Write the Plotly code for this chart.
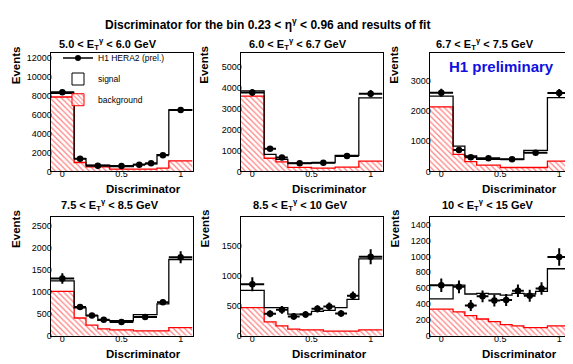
import plotly.graph_objects as go

W, H = 573, 364
FONT = "Liberation Sans, Arial, Helvetica, sans-serif"

main_title = "Discriminator for the bin 0.23 < η<sup>γ</sup> < 0.96 and results of fit"
panel_titles = [
    "5.0 < E<sub>T</sub><sup>γ</sup> < 6.0 GeV",
    "6.0 < E<sub>T</sub><sup>γ</sup> < 6.7 GeV",
    "6.7 < E<sub>T</sub><sup>γ</sup> < 7.5 GeV",
    "7.5 < E<sub>T</sub><sup>γ</sup> < 8.5 GeV",
    "8.5 < E<sub>T</sub><sup>γ</sup> < 10 GeV",
    "10 < E<sub>T</sub><sup>γ</sup> < 15 GeV",
]
x_title = "Discriminator"
y_title = "Events"
legend_names = ["H1 HERA2 (prel.)", "signal", "background"]
prelim_text = "H1 preliminary"

# ---- panel 1 : 5.0 < ET < 6.0 ----
edges_1 = [-0.1, 0.1, 0.2, 0.4, 0.6, 0.7, 0.8, 0.9, 1.1]
data_1 = [8350, 1330, 590, 560, 700, 850, 1700, 6500]
err_1 = [280, 150, 120, 120, 120, 130, 160, 200]
total_1 = [8250, 1360, 660, 520, 750, 800, 1775, 6500]
bg_1 = [7860, 940, 490, 250, 250, 250, 350, 1110]

# ---- panel 2 : 6.0 < ET < 6.7 ----
edges_2 = [-0.1, 0.1, 0.2, 0.3, 0.5, 0.7, 0.9, 1.1]
data_2 = [3780, 1085, 660, 390, 410, 740, 3720]
err_2 = [160, 70, 55, 45, 45, 60, 170]
total_2 = [3850, 820, 580, 390, 425, 770, 3520]
bg_2 = [3600, 630, 455, 190, 157, 205, 490]

# ---- panel 3 : 6.7 < ET < 7.5 ----
edges_3 = [-0.1, 0.1, 0.2, 0.3, 0.5, 0.7, 0.9, 1.1]
data_3 = [2600, 705, 467, 435, 400, 620, 2590]
err_3 = [135, 60, 45, 40, 40, 50, 135]
total_3 = [2490, 837, 510, 400, 400, 695, 2435]
bg_3 = [2130, 565, 326, 206, 130, 130, 337]

# ---- panel 4 : 7.5 < ET < 8.5 ----
edges_4 = [-0.1, 0.1, 0.2, 0.3, 0.4, 0.6, 0.8, 0.9, 1.1]
data_4 = [1300, 650, 462, 365, 313, 425, 760, 1783]
err_4 = [120, 60, 45, 40, 35, 40, 60, 135]
total_4 = [1245, 634, 455, 350, 340, 477, 724, 1730]
bg_4 = [1007, 403, 239, 157, 134, 112, 112, 186]

# ---- panel 5 : 8.5 < ET < 10 ----
edges_5 = [-0.1, 0.1, 0.2, 0.3, 0.4, 0.5, 0.6, 0.7, 0.8, 0.9, 1.1]
data_5 = [855, 365, 430, 321, 354, 447, 485, 370, 665, 1313]
err_5 = [115, 60, 65, 55, 55, 60, 65, 55, 70, 125]
total_5 = [752, 468, 468, 360, 360, 403, 420, 468, 605, 1275]
bg_5 = [468, 229, 163, 109, 98, 98, 76, 76, 76, 98]

# ---- panel 6 : 10 < ET < 15 ----
edges_6 = [-0.1, 0.1, 0.2, 0.3, 0.4, 0.5, 0.6, 0.7, 0.8, 0.9, 1.1]
data_6 = [638, 617, 381, 497, 443, 451, 567, 505, 596, 994]
err_6 = [85, 80, 70, 75, 75, 75, 80, 75, 80, 110]
total_6 = [464, 638, 526, 534, 526, 513, 534, 526, 559, 845]
bg_6 = [335, 302, 253, 211, 178, 141, 124, 103, 103, 124]

panels = [
    (edges_1, data_1, err_1, total_1, bg_1),
    (edges_2, data_2, err_2, total_2, bg_2),
    (edges_3, data_3, err_3, total_3, bg_3),
    (edges_4, data_4, err_4, total_4, bg_4),
    (edges_5, data_5, err_5, total_5, bg_5),
    (edges_6, data_6, err_6, total_6, bg_6),
]
y_max = [12500, 5660, 3910, 2700, 1975, 1500]
y_dtick = [2000, 1000, 1000, 500, 500, 200]


def px(x):
    return x / W


def py(y):
    return 1 - y / H


col_px = [(42.5, 184.5), (232.5, 374.5), (421.5, 563.0)]
row_px = [(45.7, 165.7), (211.7, 332.3)]
title_cx = [[100, 290, 477], [101.5, 292.5, 480]]
title_cy = [37, 200]
disc_cx = [135, 321.5, 511.5]
disc_cy = [184, 351]
ev_cx = [8, 196.5, 386.5]
ev_cy = [58, 224]

hatch = dict(shape="\\", fgcolor="red", bgcolor="white", size=4, solidity=0.3)

fig = go.Figure()
layout = dict(
    width=W, height=H,
    margin=dict(l=0, r=0, t=0, b=0),
    paper_bgcolor="white", plot_bgcolor="white",
    barmode="overlay", showlegend=True,
    font=dict(family=FONT, color="black"),
)
annotations = []

for i, (edges, data, err, total, bg) in enumerate(panels):
    k = i + 1
    r, c = divmod(i, 3)
    xa = "x" if k == 1 else f"x{k}"
    ya = "y" if k == 1 else f"y{k}"
    centers = [(edges[j] + edges[j + 1]) / 2 for j in range(len(edges) - 1)]
    widths = [edges[j + 1] - edges[j] for j in range(len(edges) - 1)]
    halfw = [w / 2 for w in widths]

    fig.add_trace(go.Bar(
        x=centers, y=bg, width=widths, xaxis=xa, yaxis=ya,
        marker=dict(color="white", line=dict(width=0), pattern=hatch),
        showlegend=False, hoverinfo="skip"))
    fig.add_trace(go.Scatter(
        x=edges, y=bg + [bg[-1]], mode="lines", line_shape="hv",
        line=dict(color="red", width=1.3), xaxis=xa, yaxis=ya,
        showlegend=False, hoverinfo="skip"))
    fig.add_trace(go.Scatter(
        x=edges, y=total + [total[-1]], mode="lines", line_shape="hv",
        line=dict(color="black", width=1.3), xaxis=xa, yaxis=ya,
        showlegend=False, hoverinfo="skip"))
    fig.add_trace(go.Scatter(
        x=centers, y=data, mode="markers", xaxis=xa, yaxis=ya,
        marker=dict(symbol="circle", size=6.5, color="black"),
        error_x=dict(type="data", array=halfw, width=0, thickness=2, color="black"),
        error_y=dict(type="data", array=err, width=0, thickness=2, color="black"),
        showlegend=False))

    xkey = "xaxis" if k == 1 else f"xaxis{k}"
    ykey = "yaxis" if k == 1 else f"yaxis{k}"
    x0, x1 = col_px[c]
    ytop, ybot = row_px[r]
    layout[xkey] = dict(
        domain=[px(x0), px(x1)], anchor=ya, range=[-0.1, 1.1],
        tickmode="array", tickvals=[0, 0.5, 1], ticktext=["0", "0.5", "1"],
        showline=True, linecolor="black", linewidth=1, mirror=True,
        ticks="", ticklen=0, ticklabelstandoff=-6,
        showgrid=False, zeroline=False,
        tickfont=dict(size=9, family=FONT, color="black"))
    layout[ykey] = dict(
        domain=[py(ybot), py(ytop)], anchor=xa, range=[0, y_max[i]],
        dtick=y_dtick[i], tick0=0, tickformat="d",
        showline=True, linecolor="black", linewidth=1, mirror=True,
        ticks="", ticklen=0, ticklabelstandoff=-4,
        showgrid=False, zeroline=False,
        tickfont=dict(size=9, family=FONT, color="black"))

    annotations.append(dict(
        text="<b>" + panel_titles[i] + "</b>", x=px(title_cx[r][c]), y=py(title_cy[r]),
        xref="paper", yref="paper", xanchor="center", yanchor="middle",
        showarrow=False, font=dict(size=11, family=FONT)))
    annotations.append(dict(
        text="<b>" + x_title + "</b>", x=px(disc_cx[c]), y=py(disc_cy[r]),
        xref="paper", yref="paper", xanchor="center", yanchor="middle",
        showarrow=False, font=dict(size=11.5, family=FONT)))
    annotations.append(dict(
        text="<b>" + y_title + "</b>", x=px(ev_cx[c]), y=py(ev_cy[r]), textangle=-90,
        xref="paper", yref="paper", xanchor="center", yanchor="middle",
        showarrow=False, font=dict(size=11.5, family=FONT)))

annotations.append(dict(
    text="<b>" + main_title + "</b>", x=px(259), y=py(16), xref="paper", yref="paper",
    xanchor="center", yanchor="middle", showarrow=False,
    font=dict(size=12, family=FONT)))
annotations.append(dict(
    text="<b>" + prelim_text + "</b>", x=px(493), y=py(59.5), xref="paper", yref="paper",
    xanchor="center", yanchor="middle", showarrow=False,
    font=dict(size=15, family=FONT, color="#1010e0")))

# legend entries (panel 1)
fig.add_trace(go.Scatter(
    x=[None], y=[None], mode="lines+markers", name=legend_names[0],
    line=dict(color="black", width=1.5), marker=dict(size=6, color="black"),
    legend="legend"))
fig.add_trace(go.Bar(
    x=[None], y=[None], name=legend_names[1], legend="legend2",
    marker=dict(color="white", line=dict(color="black", width=1))))
fig.add_trace(go.Bar(
    x=[None], y=[None], name=legend_names[2], legend="legend3",
    marker=dict(color="white", line=dict(color="red", width=1), pattern=hatch)))

leg_common = dict(xanchor="left", yanchor="middle", bgcolor="rgba(0,0,0,0)",
                  font=dict(size=8.5, family=FONT, color="black"), borderwidth=0)
layout["legend"] = dict(x=px(50), y=py(50.7), **leg_common)
layout["legend2"] = dict(x=px(50), y=py(72), **leg_common)
layout["legend3"] = dict(x=px(50), y=py(93), **leg_common)
layout["annotations"] = annotations

fig.update_layout(**layout)
fig.write_html("out.html")
